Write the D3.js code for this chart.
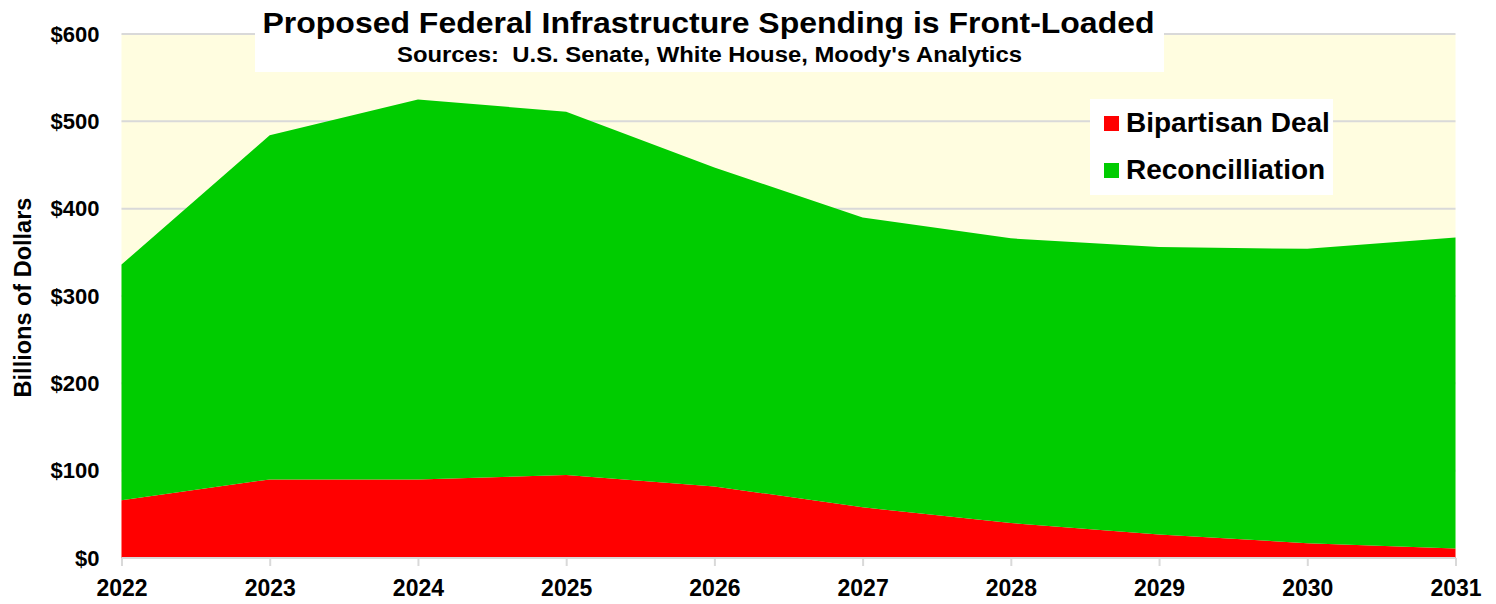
<!DOCTYPE html>
<html>
<head>
<meta charset="utf-8">
<script src="https://cdn.jsdelivr.net/npm/d3@7"></script>
<style>
  html, body { margin: 0; padding: 0; background: #ffffff; }
  svg { display: block; font-family: "Liberation Sans", Arial, sans-serif; font-weight: bold; }
</style>
</head>
<body>
<svg id="chart" width="1496" height="604"></svg>
<script>
// Fiscal years covered by the proposals
const years = [2022, 2023, 2024, 2025, 2026, 2027, 2028, 2029, 2030, 2031];
// Spending by year, billions of dollars
const bipartisan = [66, 90, 90, 95, 82, 58, 40, 27, 17, 11];
const reconciliation = [270, 394, 435, 416, 365, 332, 326, 329, 337, 356];
// Axis ticks
const yTicks = [0, 100, 200, 300, 400, 500, 600];
const seriesNames = ["Bipartisan Deal", "Reconcilliation"];
const seriesColors = ["#ff0000", "#00cc00"];

const svg = d3.select("#chart");
const plot = { left: 121.5, right: 1455.5, top: 34, bottom: 558 };

const x = d3.scaleLinear().domain([years[0], years[years.length - 1]]).range([plot.left, plot.right]);
const y = d3.scaleLinear().domain([0, 600]).range([plot.bottom, plot.top]);

// Plot background
svg.append("rect")
  .attr("x", plot.left).attr("y", plot.top)
  .attr("width", plot.right - plot.left).attr("height", plot.bottom - plot.top)
  .attr("fill", "#fffde0");

// Horizontal gridlines
svg.append("g").selectAll("line").data(yTicks).join("line")
  .attr("x1", plot.left).attr("x2", plot.right)
  .attr("y1", d => y(d)).attr("y2", d => y(d))
  .attr("stroke", "#d9d9d9").attr("stroke-width", 2);

// Stacked areas
const rows = years.map((yr, i) => ({ year: yr, b: bipartisan[i], r: reconciliation[i] }));
const stacked = d3.stack().keys(["b", "r"])(rows);
const area = d3.area()
  .x(d => x(d.data.year))
  .y0(d => y(d[0]))
  .y1(d => y(d[1]));
svg.append("g").selectAll("path").data(stacked).join("path")
  .attr("d", area)
  .attr("fill", (d, i) => seriesColors[i]);

// X axis line and ticks
svg.append("line")
  .attr("x1", plot.left).attr("x2", plot.right)
  .attr("y1", y(0)).attr("y2", y(0))
  .attr("stroke", "#d9d9d9").attr("stroke-width", 2);

const xAxis = d3.axisBottom(x)
  .tickValues(years)
  .tickFormat(d3.format("d"))
  .tickSize(8)
  .tickPadding(14);
const gx = svg.append("g").attr("transform", `translate(0,${y(0)})`).call(xAxis);
gx.select(".domain").remove();
gx.selectAll(".tick line").attr("stroke", "#d9d9d9").attr("stroke-width", 2);
gx.selectAll(".tick text")
  .attr("fill", "#000").attr("font-size", 23).attr("font-weight", "bold")
  .attr("font-family", "Liberation Sans, Arial, sans-serif");

// Y axis labels
const yAxis = d3.axisLeft(y)
  .tickValues(yTicks)
  .tickFormat(d => "$" + d)
  .tickSize(0)
  .tickPadding(22);
const gy = svg.append("g").attr("transform", `translate(${plot.left},0)`).call(yAxis);
gy.select(".domain").remove();
gy.selectAll(".tick text")
  .attr("fill", "#000").attr("font-size", 22).attr("font-weight", "bold")
  .attr("font-family", "Liberation Sans, Arial, sans-serif");

// Y axis title
svg.append("text")
  .attr("transform", "translate(31,297.5) rotate(-90)")
  .attr("text-anchor", "middle")
  .attr("font-size", 23.5)
  .text("Billions of Dollars");

// Title block
svg.append("rect")
  .attr("x", 255).attr("y", 0).attr("width", 909).attr("height", 72)
  .attr("fill", "#ffffff");
svg.append("text")
  .attr("x", 708.5).attr("y", 33)
  .attr("text-anchor", "middle")
  .attr("font-size", 29)
  .attr("textLength", 892)
  .attr("lengthAdjust", "spacingAndGlyphs")
  .text("Proposed Federal Infrastructure Spending is Front-Loaded");
svg.append("text")
  .attr("x", 709.5).attr("y", 62)
  .attr("text-anchor", "middle")
  .attr("font-size", 22)
  .attr("textLength", 625)
  .attr("lengthAdjust", "spacingAndGlyphs")
  .attr("xml:space", "preserve")
  .text("Sources:  U.S. Senate, White House, Moody's Analytics");

// Legend
const legend = svg.append("g");
legend.append("rect")
  .attr("x", 1090).attr("y", 99).attr("width", 243).attr("height", 96)
  .attr("fill", "#ffffff");
const items = legend.selectAll("g.item").data(seriesNames).join("g")
  .attr("class", "item")
  .attr("transform", (d, i) => `translate(1104,${116 + i * 47})`);
items.append("rect")
  .attr("width", 15).attr("height", 15)
  .attr("fill", (d, i) => seriesColors[i]);
items.append("text")
  .attr("x", 22).attr("y", 16)
  .attr("font-size", 28)
  .text(d => d);
</script>
</body>
</html>
